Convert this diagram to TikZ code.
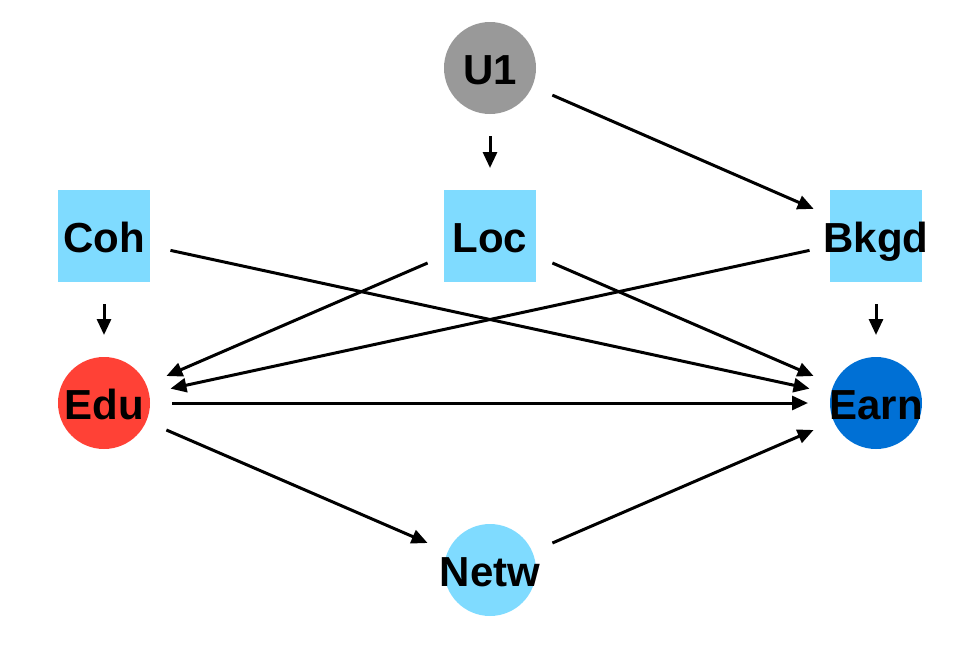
\documentclass[tikz,border=0pt]{standalone}
\usepackage{fontspec}
\setmainfont{Liberation Sans}
\usetikzlibrary{arrows.meta}
\definecolor{ugray}{HTML}{999999}
\definecolor{lblue}{HTML}{7FDBFF}
\definecolor{ered}{HTML}{FF4136}
\definecolor{eblue}{HTML}{0070D5}
\begin{document}
\begin{tikzpicture}[x=1pt,y=-1pt,
  circ/.style={circle,minimum size=92pt,inner sep=0pt,draw=none},
  sq/.style={rectangle,minimum size=92pt,inner sep=0pt,draw=none,fill=lblue},
  lab/.style={font=\bfseries\fontsize{42}{42}\selectfont,inner sep=0pt,text=black,anchor=base},
  edge/.style={line width=3pt,-{Triangle[length=16pt,width=14pt]},shorten >=68pt,shorten <=68pt}]
\useasboundingbox (0,0) rectangle (972,648);
\node[circ,fill=ugray] (u1) at (490,68) {};
\node[sq] (loc) at (490,236) {};
\node[sq] (coh) at (104,236) {};
\node[sq] (bkgd) at (876,236) {};
\node[circ,fill=ered] (edu) at (104,403) {};
\node[circ,fill=eblue] (earn) at (876,403) {};
\node[circ,fill=lblue] (netw) at (490,570) {};
\draw[edge] (u1.center) -- (loc.center);
\draw[edge] (u1.center) -- (bkgd.center);
\draw[edge] (coh.center) -- (edu.center);
\draw[edge] (coh.center) -- (earn.center);
\draw[edge] (loc.center) -- (edu.center);
\draw[edge] (loc.center) -- (earn.center);
\draw[edge] (bkgd.center) -- (edu.center);
\draw[edge] (bkgd.center) -- (earn.center);
\draw[edge] (edu.center) -- (earn.center);
\draw[edge] (edu.center) -- (netw.center);
\draw[edge] (netw.center) -- (earn.center);
\node[lab] (tu1) at ([yshift=-16.5pt]u1.center) {U1};
\node[lab] (tloc) at ([yshift=-16.5pt]loc.center) {Loc};
\node[lab] (tcoh) at ([yshift=-16.5pt]coh.center) {Coh};
\node[lab] (tbkgd) at ([yshift=-16.5pt]bkgd.center) {Bkgd};
\node[lab] (tedu) at ([yshift=-16.5pt]edu.center) {Edu};
\node[lab] (tearn) at ([yshift=-16.5pt]earn.center) {Earn};
\node[lab] (tnetw) at ([yshift=-16.5pt]netw.center) {Netw};
\end{tikzpicture}
\end{document}
